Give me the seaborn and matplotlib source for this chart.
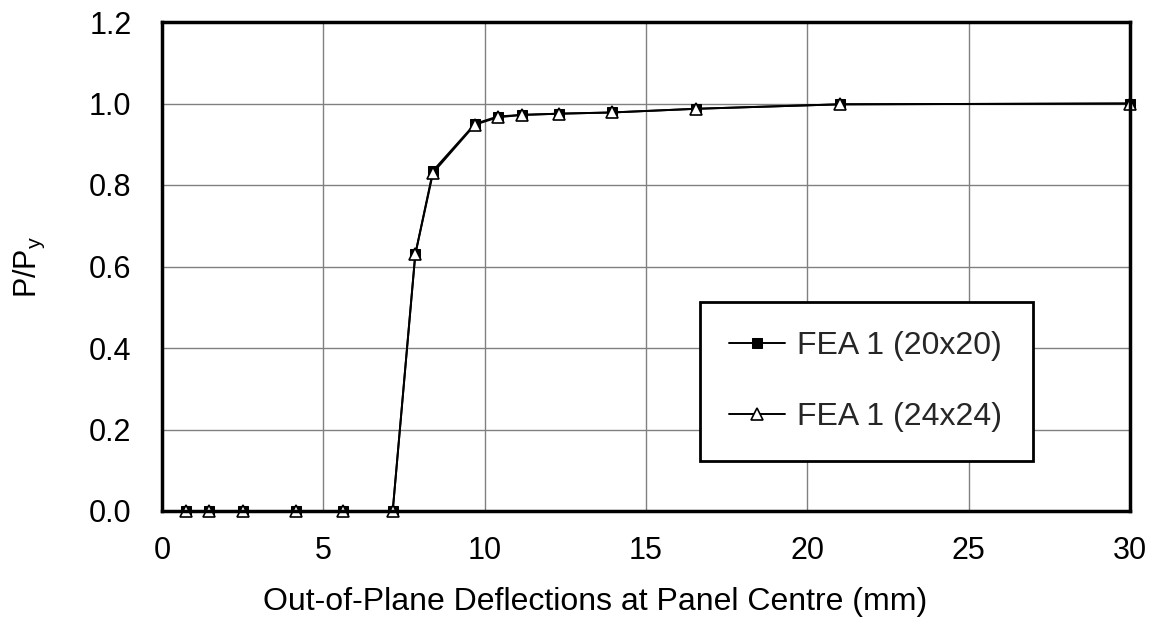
import matplotlib
matplotlib.use("Agg")
import matplotlib.pyplot as plt
import seaborn as sns
import pandas as pd

deflection = [0.75, 1.45, 2.5, 4.15, 5.6, 7.15, 7.85, 8.4, 9.7, 10.4, 11.15, 12.3, 13.95, 16.55, 21.0, 30.0]
load_20x20 = [0.0, 0.0, 0.0, 0.0, 0.0, 0.0, 0.63, 0.835, 0.95, 0.968, 0.972, 0.975, 0.978, 0.987, 0.998, 1.0]
load_24x24 = [0.0, 0.0, 0.0, 0.0, 0.0, 0.0, 0.63, 0.83, 0.948, 0.966, 0.972, 0.975, 0.978, 0.987, 0.998, 1.0]
x_ticks = [0, 5, 10, 15, 20, 25, 30]
y_ticks = [0.0, 0.2, 0.4, 0.6, 0.8, 1.0, 1.2]
labels = ["FEA 1 (20x20)", "FEA 1 (24x24)"]

sns.set_theme(style="white")
plt.rcParams["font.family"] = ["Liberation Sans", "DejaVu Sans"]
plt.rcParams["mathtext.fontset"] = "custom"
plt.rcParams["mathtext.rm"] = "Liberation Sans"
plt.rcParams["mathtext.it"] = "Liberation Sans"

df1 = pd.DataFrame({"x": deflection, "y": load_20x20})
df2 = pd.DataFrame({"x": deflection, "y": load_24x24})

fig = plt.figure(figsize=(11.61, 6.30), dpi=100)
ax = fig.add_axes([162 / 1161, 1 - 511 / 630, (1130 - 162) / 1161, (511 - 22) / 630])

sns.lineplot(data=df1, x="x", y="y", ax=ax, color="black", linewidth=2.6,
             marker="s", markersize=12, markerfacecolor="black",
             markeredgecolor="black", label=labels[0], sort=False, clip_on=False)
sns.lineplot(data=df2, x="x", y="y", ax=ax, color="black", linewidth=1.5,
             marker="^", markersize=8, markerfacecolor="white",
             markeredgecolor="black", markeredgewidth=1.2, label=labels[1],
             sort=False, clip_on=False)

ax.set_xlim(0, 30)
ax.set_ylim(0, 1.2)
ax.set_xticks(x_ticks)
ax.set_yticks(y_ticks)
ax.set_xticklabels([str(t) for t in x_ticks])
ax.set_yticklabels([f"{t:.1f}" for t in y_ticks])
ax.tick_params(axis="both", labelsize=22, length=0, colors="black")
ax.tick_params(axis="x", pad=18)
ax.tick_params(axis="y", pad=22)
ax.grid(True, color="#808080", linewidth=1)
for s in ax.spines.values():
    s.set_color("black")
    s.set_linewidth(2.5)
ax.set_xlabel("Out-of-Plane Deflections at Panel Centre (mm)", fontsize=23, labelpad=14, color="black")
ax.xaxis.set_label_coords((595 - 162) / 968, -0.155)
ax.set_ylabel("P/P$_\\mathrm{y}$", fontsize=22, labelpad=30, color="black")

handles, _ = ax.get_legend_handles_labels()
for h in handles:
    h.set_linewidth(1.4)
handles[0].set_markersize(7.5)
handles[1].set_markersize(8)
handles[1].set_markeredgewidth(1.2)
x0 = (700 - 162) / 968
x1 = (1033 - 162) / 968
ytop = (511 - 302) / 489
leg = ax.legend(handles, labels, loc="upper left",
                bbox_to_anchor=(x0, ytop - 0.3, x1 - x0, 0.3), mode="expand",
                fontsize=23, frameon=True, fancybox=False, framealpha=1,
                edgecolor="black", labelspacing=1.3, borderpad=0.9,
                handlelength=1.75, handletextpad=0.4, borderaxespad=0)
leg.get_frame().set_linewidth(2)

fig.savefig("out.png", dpi=100)
